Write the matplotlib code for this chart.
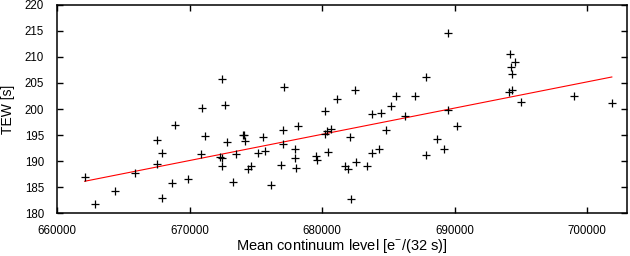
import matplotlib
matplotlib.use("Agg")
import matplotlib.pyplot as plt

# mean continuum level [e-/(32 s)] and TEW [s]
continuum = [662060, 662840, 664350, 665840, 667530, 667930, 667530, 667930,
             668880, 668640, 669900, 670920, 671140, 670850, 672470, 672690,
             672810, 672280, 672460, 672430, 673290, 673510, 674010, 674090,
             674160, 674420, 674640, 675520, 675190, 675650, 676170, 677150,
             677060, 677080, 676930, 677980, 678160, 677980, 678060, 679560,
             679620, 680180, 680220, 680350, 680640, 680440, 681090, 682480,
             682100, 681700, 681920, 682580, 682180, 683380, 683760, 684270,
             683740, 684480, 684850, 685230, 685610, 686250, 687000, 687850,
             687830, 688690, 689190, 689540, 689480, 690150, 694190, 694560,
             694270, 694350, 694080, 694310, 695010, 699020, 701880]
tew = [186.96, 181.78, 184.24, 187.77, 194.0, 191.62, 189.40, 182.84,
       196.84, 185.85, 186.62, 200.25, 194.77, 191.33, 205.75, 200.81,
       193.63, 190.85, 190.66, 189.07, 185.94, 191.43, 195.11, 194.96,
       193.81, 188.49, 189.13, 194.67, 191.56, 191.89, 185.43, 204.16,
       196.03, 193.23, 189.26, 192.39, 196.74, 190.55, 188.74, 190.99,
       190.28, 199.71, 195.30, 195.78, 196.11, 191.75, 201.98, 203.70,
       194.63, 189.01, 188.44, 189.84, 182.68, 189.07, 191.60, 192.33,
       199.10, 199.23, 196.01, 200.63, 202.53, 198.72, 202.45, 206.23,
       191.14, 194.25, 192.37, 214.52, 199.85, 196.74, 210.49, 209.01,
       208.0, 206.75, 203.22, 203.60, 201.30, 202.53, 201.09]

# linear fit, end points
fit_x = [662060, 701880]
fit_y = [186.14, 206.14]

x_ticks = [660000, 670000, 680000, 690000, 700000]
y_ticks = [180, 185, 190, 195, 200, 205, 210, 215, 220]

plt.rcParams["font.family"] = ["Liberation Sans", "DejaVu Sans"]
plt.rcParams["mathtext.fontset"] = "custom"
plt.rcParams["mathtext.rm"] = "Liberation Sans"

fig = plt.figure(figsize=(6.3, 2.56), dpi=100)
ax = fig.add_axes([0.091, 0.1668, 0.9037, 0.8148])

ax.plot(fit_x, fit_y, color="red", lw=0.8)
ax.plot(continuum, tew, ls="none", marker="+", color="black", ms=5.5, mew=0.9)

ax.set_xlim(660000, 703000)
ax.set_ylim(180, 220)
ax.set_xticks(x_ticks)
ax.set_yticks(y_ticks)
ax.tick_params(direction="in", length=4, width=1, top=True, right=True,
               labelsize=8.3)
ax.tick_params(axis="x", pad=8.5)
ax.tick_params(axis="y", pad=9.5)
for s in ax.spines.values():
    s.set_linewidth(1.1)

ax.set_xlabel(r"Mean continuum level [e$^{-}$/(32 s)]", fontsize=10.5)
ax.set_ylabel("TEW [s]", fontsize=10)
ax.xaxis.set_label_coords(0.5, -0.115)
ax.yaxis.set_label_coords(-0.074, 0.5)

fig.savefig("out.png", dpi=100)
